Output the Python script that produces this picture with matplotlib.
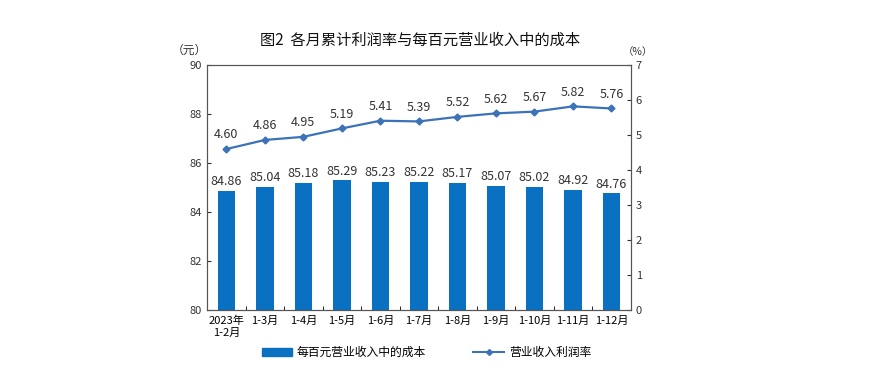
import matplotlib.pyplot as plt
import numpy as np
from matplotlib.lines import Line2D
from matplotlib.patches import Patch

plt.rcParams['font.family'] = ['Noto Sans CJK SC', 'DejaVu Sans']

months = ['2023年\n1-2月', '1-3月', '1-4月', '1-5月', '1-6月', '1-7月',
          '1-8月', '1-9月', '1-10月', '1-11月', '1-12月']
cost = [84.86, 85.04, 85.18, 85.29, 85.23, 85.22, 85.17, 85.07, 85.02, 84.92, 84.76]
rate = [4.60, 4.86, 4.95, 5.19, 5.41, 5.39, 5.52, 5.62, 5.67, 5.82, 5.76]

bar_color = '#0a70c2'
line_color = '#3c72b8'

fig = plt.figure(figsize=(8.7, 3.92), dpi=100)
ax = fig.add_axes([0.238, 0.209, 0.487, 0.625])
x = np.arange(len(months))

ax.bar(x, cost, width=0.45, color=bar_color, zorder=2)
for xi, v in zip(x, cost):
    ax.text(xi, v + 0.12, f'{v:.2f}', ha='center', va='bottom', fontsize=9, color='#333333')
ax.set_ylim(80, 90)
ax.set_yticks(range(80, 91, 2))
ax.set_xlim(-0.5, len(months) - 0.5)
ax.set_xticks(x)
ax.set_xticklabels(months, fontsize=8)
ax.set_xticks(np.arange(-0.5, len(months), 1), minor=True)
ax.tick_params(axis='x', which='major', length=0, pad=4)
ax.tick_params(axis='x', which='minor', length=3, direction='in')
ax.tick_params(axis='y', labelsize=8, direction='in', length=3, colors='#333333')

ax2 = ax.twinx()
ax2.plot(x, rate, color=line_color, marker='D', markersize=3.5, linewidth=1.6, zorder=3)
for xi, v in zip(x, rate):
    ax2.text(xi, v + 0.22, f'{v:.2f}', ha='center', va='bottom', fontsize=9, color='#333333')
ax2.set_ylim(0, 7)
ax2.set_yticks(range(0, 8))
ax2.tick_params(axis='y', labelsize=8, direction='in', length=3, colors='#333333')

for a in (ax, ax2):
    for s in a.spines.values():
        s.set_color('#555555')
        s.set_linewidth(0.8)

fig.text(0.238, 0.855, '（元）', ha='right', va='bottom', fontsize=8.5, color='#333333')
fig.text(0.733, 0.855, '（%）', ha='center', va='bottom', fontsize=7.5, color='#333333')
fig.text(0.483, 0.898, '图2  各月累计利润率与每百元营业收入中的成本', ha='center', va='center',
         fontsize=11, color='#111111', fontweight='medium')

handles = [Patch(color=bar_color), Line2D([0], [0], color=line_color, marker='D', markersize=3, linewidth=1.5)]
fig.legend(handles, ['每百元营业收入中的成本', '营业收入利润率'], loc='center', ncol=2,
           bbox_to_anchor=(0.49, 0.1), frameon=False, fontsize=8.5, columnspacing=4,
           handlelength=2.6, handleheight=0.6, handletextpad=0.4)

fig.savefig('out.png', dpi=100)
